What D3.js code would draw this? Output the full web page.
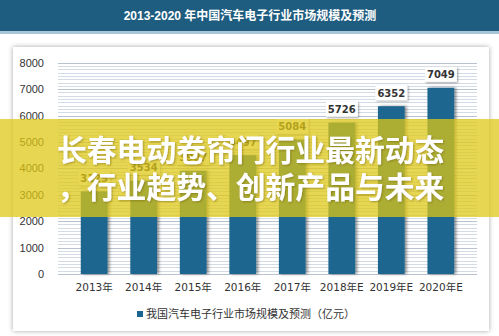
<!DOCTYPE html>
<html><head><meta charset="utf-8">
<script src="https://cdn.jsdelivr.net/npm/d3@7"></script>
<style>
html,body{margin:0;padding:0;background:#fff;}
svg{display:block;}
</style></head>
<body>
<script>
const title = "2013-2020 年中国汽车电子行业市场规模及预测";
const categories = ["2013年","2014年","2015年","2016年","2017年","2018年E","2019年E","2020年E"];
const values = [3125, 3534, 3907, 4497, 5084, 5726, 6352, 7049];
const yTicks = [0,1000,2000,3000,4000,5000,6000,7000,8000];
const legendLabel = "我国汽车电子行业市场规模及预测（亿元）";
const bannerLines = ["长春电动卷帘门行业最新动态", "，行业趋势、创新产品与未来"];

const W = 499, H = 336;
const svg = d3.select("body").append("svg").attr("width", W).attr("height", H);
const defs = svg.append("defs");
const f1 = defs.append("filter").attr("id","cardsh").attr("x","-5%").attr("y","-5%").attr("width","110%").attr("height","110%");
f1.append("feDropShadow").attr("dx",0).attr("dy",0).attr("stdDeviation",2.5).attr("flood-color","#000").attr("flood-opacity",0.35);
const f2 = defs.append("filter").attr("id","barsh").attr("x","-40%").attr("y","-10%").attr("width","180%").attr("height","120%");
f2.append("feDropShadow").attr("dx",2).attr("dy",0).attr("stdDeviation",1.5).attr("flood-color","#000").attr("flood-opacity",0.45);
const f3 = defs.append("filter").attr("id","lblsh").attr("x","-30%").attr("y","-30%").attr("width","160%").attr("height","160%");
f3.append("feDropShadow").attr("dx",1).attr("dy",1).attr("stdDeviation",1.2).attr("flood-color","#000").attr("flood-opacity",0.4);
const f4 = defs.append("filter").attr("id","txtsh").attr("x","-5%").attr("y","-20%").attr("width","110%").attr("height","140%");
f4.append("feDropShadow").attr("dx",1).attr("dy",1).attr("stdDeviation",1).attr("flood-color","#6a5a00").attr("flood-opacity",0.5);

// title bar
svg.append("rect").attr("x",0).attr("y",0).attr("width",W).attr("height",31).attr("fill","#1e5d7f");
svg.append("rect").attr("x",0).attr("y",31).attr("width",W).attr("height",3).attr("fill","#a8c6d6");
svg.append("text").attr("x",250).attr("y",19.5).attr("text-anchor","middle")
  .attr("font-family","'Liberation Sans','Noto Sans CJK SC',sans-serif").attr("font-weight","bold")
  .attr("font-size",12).attr("fill","#fff").text(title);

// card
svg.append("rect").attr("x",13).attr("y",47).attr("width",476).attr("height",284).attr("fill","#fff").attr("filter","url(#cardsh)");

const plot = {l:58, r:477, t:62.7, b:274};
const x = d3.scaleBand().domain(categories).range([plot.l, plot.r]).padding(0.46);
const y = d3.scaleLinear().domain([0, 8000]).range([plot.b, plot.t]);

// gridlines
const minor = d3.range(0, 8001, 125);
svg.append("g").selectAll("line").data(minor).join("line")
  .attr("x1",plot.l).attr("x2",plot.r)
  .attr("y1",d=>Math.round(y(d))+0.5).attr("y2",d=>Math.round(y(d))+0.5)
  .attr("stroke",d=> d%1000===0 ? "#b9c3cf" : "#d3dbe5").attr("stroke-width",1);

// y axis
const ya = svg.append("g").attr("transform",`translate(${plot.l-14},0)`)
  .call(d3.axisLeft(y).tickValues(yTicks).tickSize(0).tickPadding(0).tickFormat(d3.format("d")));
ya.select(".domain").remove();
ya.selectAll("text").attr("font-family","'Liberation Sans',Arial,sans-serif").attr("font-size",11).attr("fill","#333");

// bars
svg.append("g").selectAll("rect").data(values).join("rect")
  .attr("x",(d,i)=>x(categories[i])).attr("width",x.bandwidth())
  .attr("y",d=>y(d)).attr("height",d=>plot.b - y(d))
  .attr("fill","#1b6690").attr("filter","url(#barsh)");

// value labels
const lg = svg.append("g").selectAll("g").data(values).join("g")
  .attr("transform",(d,i)=>`translate(${x(categories[i])+x.bandwidth()/2},${y(d)-13})`);
lg.append("rect").attr("x",-16).attr("y",-8).attr("width",32).attr("height",15).attr("fill","#fff").attr("filter","url(#lblsh)");
lg.append("text").attr("text-anchor","middle").attr("dy","0.35em")
  .attr("font-family","'DejaVu Sans',sans-serif").attr("font-weight","bold").attr("font-size",10).attr("fill","#333")
  .text(d=>d);

// x axis labels
const xa = svg.append("g").attr("transform",`translate(0,${plot.b+10})`)
  .call(d3.axisBottom(x).tickSize(0).tickPadding(0));
xa.select(".domain").remove();
xa.selectAll("text").attr("font-family","'DejaVu Sans','Noto Sans CJK SC',sans-serif").attr("font-size",10.5).attr("fill","#333").attr("dy","0.71em");

// legend
svg.append("rect").attr("x",137).attr("y",311).attr("width",6).attr("height",6).attr("fill","#1b6690");
svg.append("text").attr("x",146).attr("y",318).attr("font-family","'Noto Sans CJK SC',sans-serif")
  .attr("font-size",11).attr("fill","#333").text(legendLabel);

// banner overlay
svg.append("rect").attr("x",0).attr("y",119).attr("width",W).attr("height",98).attr("fill","rgb(222,200,20)").attr("fill-opacity",0.74);
svg.append("g").selectAll("text").data(bannerLines).join("text")
  .attr("x",57).attr("y",(d,i)=>161 + i*37)
  .attr("font-family","'Noto Sans CJK SC',sans-serif").attr("font-weight","bold").attr("font-size",29.8)
  .attr("fill","#fff").attr("filter","url(#txtsh)").text(d=>d);
</script>
</body></html>
